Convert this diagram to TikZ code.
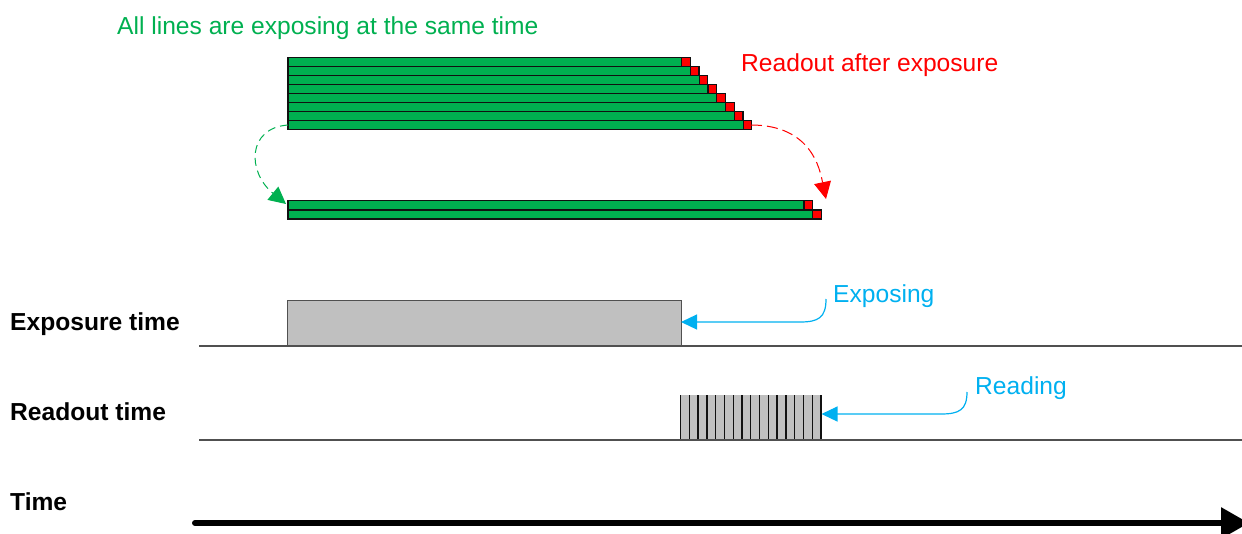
\documentclass[tikz,border=0pt]{standalone}
\usepackage{fontspec}
\setmainfont{Liberation Sans}
\usetikzlibrary{arrows.meta}
\definecolor{bargreen}{HTML}{00B050}
\definecolor{barred}{HTML}{FF0000}
\definecolor{calloutblue}{HTML}{00B0F0}
\definecolor{boxgray}{HTML}{C0C0C0}
\definecolor{edgedark}{HTML}{111111}
\definecolor{axisgray}{HTML}{505050}
\begin{document}
\begin{tikzpicture}[x=1pt,y=-1pt,
  lbl/.style={anchor=base west, inner sep=0pt, font=\fontsize{24.6}{28}\selectfont},
  boldlbl/.style={lbl, font=\fontsize{24.6}{28}\selectfont\bfseries},
  greenbar/.style={fill=bargreen, draw=edgedark, line width=1.2pt},
  redbar/.style={fill=barred, draw=edgedark, line width=1.2pt},
  greendash/.style={draw=bargreen, line width=1pt, dash pattern=on 8pt off 5pt, -{Triangle[length=17pt,width=17pt]}},
  reddash/.style={draw=barred, line width=1pt, dash pattern=on 11pt off 5pt, -{Triangle[length=17pt,width=17pt]}},
  callout/.style={draw=calloutblue, line width=1.2pt, -{Triangle[length=16pt,width=15pt]}},
  baseline line/.style={draw=axisgray, line width=1.3pt},
  timearrow/.style={line width=6pt, line cap=round, -{Triangle[length=28pt,width=30pt]}}
]
\useasboundingbox (0,0) rectangle (1242,533);

% texts
\node[lbl, text=bargreen] (title) at (117,34) {All lines are exposing at the same time};
\node[lbl, text=barred] (readlbl) at (741,71) {Readout after exposure};
\node[lbl, text=calloutblue] (exptxt) at (833,302.7) {Exposing};
\node[lbl, text=calloutblue] (readtxt) at (975,394) {Reading};
\node[boldlbl] (exptime) at (10,330) {Exposure time};
\node[boldlbl] (rdtime) at (10,420) {Readout time};
\node[boldlbl] (timelbl) at (10,510) {Time};

% stacked lines (top)
\foreach \i in {0,...,7}{
  \pgfmathsetmacro{\ya}{57.3+9*\i}
  \pgfmathsetmacro{\yb}{\ya+9}
  \pgfmathsetmacro{\xa}{681.5+8.8*\i}
  \pgfmathsetmacro{\xb}{\xa+8.7}
  \draw[greenbar] (288,\ya) rectangle (\xa,\yb);
  \draw[redbar] (\xa,\ya) rectangle (\xb,\yb);
}
% bottom pair
\draw[greenbar] (288,200.7) rectangle (804,209.9);
\draw[redbar] (804,200.7) rectangle (812.7,209.9);
\draw[greenbar] (288,209.9) rectangle (812.7,219);
\draw[redbar] (812.7,209.9) rectangle (821.3,219);

% curved arrows
\coordinate (gs) at (288,125);
\coordinate (ge) at (286,204);
\coordinate (rs) at (751,125);
\coordinate (re) at (826,199);
\draw[greendash] (gs) .. controls (247,128) and (247,172) .. (ge);
\draw[reddash] (rs) .. controls (812,125) and (820,170) .. (re);

% exposure box
\node[anchor=north west, fill=boxgray, draw=axisgray, line width=1pt, inner sep=0pt, outer sep=0pt,
      minimum width=394pt, minimum height=46pt] (expbox) at (287,300) {};
% readout box
\node[anchor=north west, fill=boxgray, inner sep=0pt, outer sep=0pt,
      minimum width=141.5pt, minimum height=45pt] (rdbox) at (680,395) {};
\foreach \k in {0,...,16}{
  \pgfmathsetmacro{\xx}{680.5+\k*140.5/16}
  \draw[edgedark, line width=1.3pt] (\xx,395) -- (\xx,440);
}

% baselines
\coordinate (l1s) at (199,346);
\coordinate (l1e) at (1242,346);
\coordinate (l2s) at (199,440);
\coordinate (l2e) at (1242,440);
\draw[baseline line] (l1s) -- (l1e);
\draw[baseline line] (l2s) -- (l2e);

% callouts
\coordinate (ecs) at (826,299);
\coordinate (rcs) at (967,392);
\draw[callout] (ecs) .. controls (826,318) and (818,322) .. (800,322) -- ([yshift=1pt]expbox.east);
\draw[callout] (rcs) .. controls (967,410) and (959,414) .. (941,414) -- ([yshift=3.5pt]rdbox.east);

% time axis
\coordinate (ts) at (195,523);
\coordinate (te) at (1249,523);
\draw[timearrow] (ts) -- (te);
\end{tikzpicture}
\end{document}
